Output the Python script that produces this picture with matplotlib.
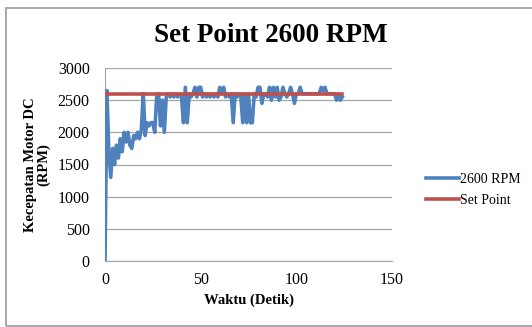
import matplotlib
matplotlib.use("Agg")
import matplotlib.pyplot as plt
from matplotlib.patches import Rectangle

time_s = list(range(0, 125))
rpm = [0, 2650, 1700, 1300, 1750, 1500, 1800, 1600, 1900, 1700,
       2000, 1850, 2000, 1800, 1750, 1950, 1900, 2000, 1900, 2050,
       2600, 1950, 2150, 2100, 2150, 2150, 2000, 2550, 2600, 2100,
       2500, 2000, 2550, 2600, 2550, 2600, 2550, 2600, 2550, 2600,
       2550, 2150, 2700, 2150, 2600, 2550, 2600, 2700, 2550, 2700,
       2700, 2550, 2600, 2550, 2600, 2550, 2600, 2550, 2600, 2550,
       2700, 2600, 2700, 2550, 2600, 2550, 2600, 2150, 2600, 2550,
       2600, 2550, 2150, 2600, 2150, 2600, 2150, 2150, 2600, 2550,
       2700, 2700, 2450, 2600, 2600, 2550, 2700, 2500, 2700, 2550,
       2700, 2500, 2550, 2700, 2600, 2550, 2600, 2700, 2600, 2450,
       2600, 2600, 2700, 2600, 2600, 2600, 2600, 2600, 2600, 2600,
       2600, 2600, 2600, 2700, 2650, 2700, 2600, 2600, 2600, 2600,
       2600, 2500, 2600, 2500, 2550]
setpoint_t = [0, 124]
setpoint_v = [2600, 2600]

title = "Set Point 2600 RPM"
xlabel = "Waktu (Detik)"
ylabel = "Kecepatan Motor DC\n(RPM)"
xticks = [0, 50, 100, 150]
yticks = [0, 500, 1000, 1500, 2000, 2500, 3000]

plt.rcParams['font.family'] = ['Liberation Serif', 'DejaVu Serif']

fig = plt.figure(figsize=(5.32, 3.27), dpi=100)
ax = fig.add_axes([105/532, 1-261/327, (392-105)/532, (261-68)/327])

ax.plot(time_s, rpm, color='#4F81BD', lw=2.6, label='2600 RPM', zorder=3)
ax.plot(setpoint_t, setpoint_v, color='#C0504D', lw=2.6, label='Set Point', zorder=4)

ax.set_xlim(0, 150)
ax.set_ylim(0, 3000)
ax.set_xticks(xticks)
ax.set_yticks(yticks)
ax.grid(axis='y', color='#A6A6A6', lw=0.9)
ax.set_axisbelow(True)
for s in ['top', 'right']:
    ax.spines[s].set_visible(False)
for s in ['left', 'bottom']:
    ax.spines[s].set_color('#A6A6A6')
ax.tick_params(axis='both', length=0, labelsize=11.5, colors='black')
ax.tick_params(axis='y', pad=11)
ax.tick_params(axis='x', pad=8)

ax.set_xlabel(xlabel, fontsize=10.5, fontweight='bold', labelpad=4)
ax.set_ylabel(ylabel, fontsize=10.5, fontweight='bold', linespacing=1.0)
ax.yaxis.set_label_coords(-55/287, 0.5)
fig.text(271/532, 1-35/327, title, ha='center', va='center', fontsize=19.5, fontweight='bold')

leg = fig.legend(loc='center left', bbox_to_anchor=(413/532, 1-190/327), frameon=False,
                 fontsize=10, handlelength=2.4, handletextpad=0.1, labelspacing=0.6)

fig.patches.append(Rectangle((6/532, 1/327), 540/532, 318/327, transform=fig.transFigure,
                             fill=False, edgecolor='#A0A0A0', lw=1.3))

fig.savefig('out.png', dpi=100)
